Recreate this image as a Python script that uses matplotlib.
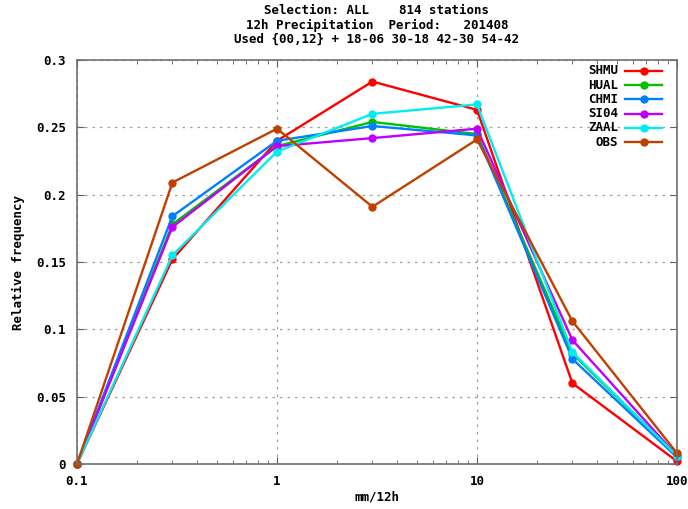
import matplotlib
matplotlib.use("Agg")
import matplotlib.pyplot as plt
from matplotlib.ticker import FixedLocator, NullFormatter, LogLocator

plt.rcParams['font.family'] = ['DejaVu Sans Mono']
plt.rcParams['font.weight'] = 'bold'
plt.rcParams['axes.labelweight'] = 'bold'

# precipitation class bounds (mm/12h)
bins = [0.1, 0.3, 1, 3, 10, 30, 100]

names = ["SHMU", "HUAL", "CHMI", "SI04", "ZAAL", "OBS"]
shmu = [0.0, 0.152, 0.240, 0.284, 0.263, 0.060, 0.002]
hual = [0.0, 0.178, 0.236, 0.254, 0.245, 0.082, 0.006]
chmi = [0.0, 0.184, 0.240, 0.251, 0.244, 0.078, 0.005]
si04 = [0.0, 0.176, 0.236, 0.242, 0.249, 0.092, 0.006]
zaal = [0.0, 0.155, 0.232, 0.260, 0.267, 0.083, 0.006]
obs = [0.0, 0.209, 0.249, 0.191, 0.241, 0.106, 0.008]
series = [shmu, hual, chmi, si04, zaal, obs]
colors = ["#ff0000", "#00c000", "#0080ff", "#c000ff", "#00eeee", "#c04000"]

yticks = [0, 0.05, 0.1, 0.15, 0.2, 0.25, 0.3]
ytick_labels = ["0", "0.05", "0.1", "0.15", "0.2", "0.25", "0.3"]
xticks = [0.1, 1, 10, 100]
xtick_labels = ["0.1", "1", "10", "100"]

W, H = 688, 509
fig = plt.figure(figsize=(W / 100, H / 100), dpi=100)
ax = fig.add_axes([77 / W, 1 - 464 / H, 600 / W, 404 / H])

for vals, c in zip(series, colors):
    ax.plot(bins, vals, color=c, lw=1.7, marker='o', ms=5, clip_on=False)

ax.set_xscale('log')
ax.set_xlim(0.1, 100)
ax.set_ylim(0, 0.3)
ax.xaxis.set_major_locator(FixedLocator(xticks))
ax.set_xticklabels(xtick_labels)
ax.xaxis.set_minor_locator(LogLocator(base=10, subs=range(2, 10)))
ax.xaxis.set_minor_formatter(NullFormatter())
ax.set_yticks(yticks)
ax.set_yticklabels(ytick_labels)

ax.tick_params(which='both', direction='in', top=True, right=True,
               labelsize=9, color='#606060', pad=8)
ax.tick_params(which='major', length=5)
ax.tick_params(which='minor', length=3)
for s in ax.spines.values():
    s.set_color('#707070')
    s.set_linewidth(1.2)
ax.grid(True, which='major', ls=(0, (2, 4)), color='#a0a0a0', lw=0.9)

ax.set_xlabel("mm/12h", fontsize=9, labelpad=2)
ax.set_ylabel("Relative frequency", fontsize=9, labelpad=8)

fig.text(377 / W, 1 - 4 / H,
         "Selection: ALL    814 stations\n"
         "12h Precipitation  Period:   201408\n"
         "Used {00,12} + 18-06 30-18 42-30 54-42",
         ha='center', va='top', fontsize=9, linespacing=1.15)

# legend, text right-aligned with line sample on the right
for i, (name, c) in enumerate(zip(names, colors)):
    y = 1 - (71 + i * 14.2 - 60) / 404
    ax.text(541 / 600, y, name, transform=ax.transAxes, ha='right',
            va='center', fontsize=9)
    ax.plot([548 / 600, 585 / 600], [y, y], transform=ax.transAxes,
            color=c, lw=1.7, clip_on=False)
    ax.plot([567 / 600], [y], transform=ax.transAxes, color=c,
            marker='o', ms=5, clip_on=False)

fig.savefig("out.png", dpi=100)
